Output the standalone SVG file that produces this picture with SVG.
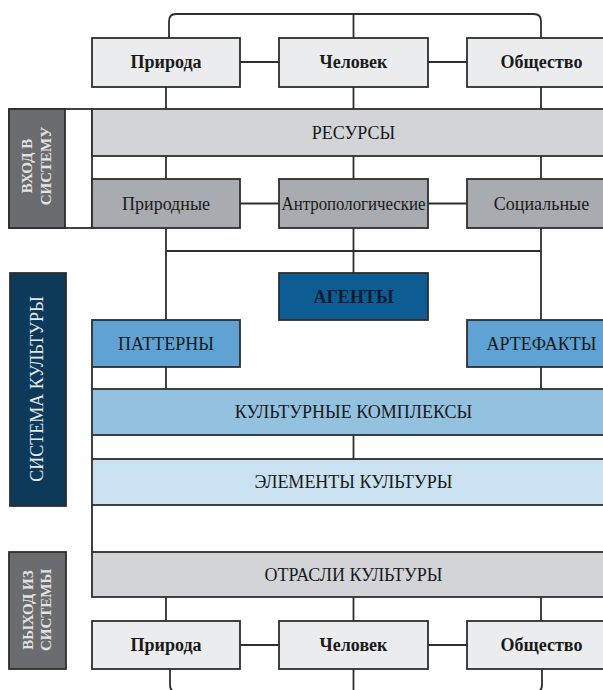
<svg xmlns="http://www.w3.org/2000/svg" width="603" height="690" viewBox="0 0 603 690">
<style>
.box{stroke:#2e2e2e;stroke-width:1.8}
.light{fill:#ebecee}
.res{fill:#d2d4d7}
.mid{fill:#a8abaf}
.agent{fill:#0d5c93}
.pat{fill:#5ea3d3}
.kk{fill:#93c1e0}
.el{fill:#c9e1f0}
.lbl{fill:#6a6c6f}
.navy{fill:#0d3a5b}
text{font-family:'Liberation Serif','Times New Roman',Tinos,'DejaVu Serif',serif}
.t{font-size:18px;fill:#1a1a1a;text-anchor:middle}
.b{font-weight:bold}
.side{font-size:15px;font-weight:bold;fill:#e2e2e2;text-anchor:middle}
.side2{font-size:18px;fill:#e4e9ee;text-anchor:middle}
.c{fill:none;stroke:#2e2e2e;stroke-width:1.8}
</style>
<rect width="603" height="690" fill="#ffffff"/>
<g id="connectors" class="c">
<path d="M169,38 V21 Q169,14 176,14 H534 Q541,14 541,21 V38 M353.5,14 V38"/>
<path d="M240,62 H279 M428,62 H467"/>
<path d="M166,87 V109 M353.5,87 V109 M541,87 V109"/>
<path d="M166,156 V179 M353.5,156 V179 M541,156 V179"/>
<path d="M240,203.5 H279 M428,203.5 H467"/>
<path d="M166,228 V320 M353.5,228 V273 M541,228 V320 M166,251 H541"/>
<path d="M166,367 V389 M541,367 V389"/>
<path d="M353.5,435 V459"/>
<path d="M92,367 V389 M92,435 V459 M92,505 V552"/>
<path d="M166,597 V621 M353.5,597 V621 M541,597 V621"/>
<path d="M240,645 H279 M428,645 H467"/>
<path d="M170,669 V685 Q170,692 177,692 H535 Q542,692 542,685 V669 M353.5,669 V692"/>
</g>
<g font-family="Liberation Serif, Times New Roman, serif">
<g id="label-vhod">
<rect x="9" y="109" width="83" height="119" fill="#ffffff" class="box"/>
<rect x="9" y="109" width="56" height="119" class="box lbl"/>
<text class="side" transform="translate(32,166) rotate(-90)">ВХОД В</text>
<text class="side" transform="translate(51,166) rotate(-90)">СИСТЕМУ</text>
</g>
<g id="label-sistema">
<rect x="10" y="273" width="56" height="233" class="box navy"/>
<text class="side2" transform="translate(43,389) rotate(-90)">СИСТЕМА КУЛЬТУРЫ</text>
</g>
<g id="label-vyhod">
<rect x="9" y="552" width="57" height="117" class="box lbl"/>
<text class="side" transform="translate(33,610) rotate(-90)">ВЫХОД ИЗ</text>
<text class="side" transform="translate(51,610) rotate(-90)">СИСТЕМЫ</text>
</g>
<g id="priroda-top"><rect x="92" y="38" width="148" height="49" class="box light"/><text class="t b" x="166" y="68">Природа</text></g>
<g id="chelovek-top"><rect x="279" y="38" width="149" height="49" class="box light"/><text class="t b" x="353.5" y="68">Человек</text></g>
<g id="obshestvo-top"><rect x="467" y="38" width="150" height="49" class="box light"/><text class="t b" x="541.5" y="68">Общество</text></g>
<g id="resursy"><rect x="92" y="109" width="520" height="47" class="box res"/><text class="t" x="353.5" y="139">РЕСУРСЫ</text></g>
<g id="prirodnye"><rect x="92" y="179" width="148" height="49" class="box mid"/><text class="t" x="166" y="210">Природные</text></g>
<g id="antropologicheskie"><rect x="279" y="179" width="149" height="49" class="box mid"/><text class="t" x="353.5" y="210" textLength="144" lengthAdjust="spacingAndGlyphs">Антропологические</text></g>
<g id="socialnye"><rect x="467" y="179" width="150" height="49" class="box mid"/><text class="t" x="541.5" y="210">Социальные</text></g>
<g id="agenty"><rect x="279" y="273" width="149" height="47" class="box agent"/><text class="t b" x="353.5" y="303" style="fill:#0b1e30">АГЕНТЫ</text></g>
<g id="patterny"><rect x="92" y="320" width="148" height="47" class="box pat"/><text class="t" x="166" y="350">ПАТТЕРНЫ</text></g>
<g id="artefakty"><rect x="467" y="320" width="150" height="47" class="box pat"/><text class="t" x="541.5" y="350">АРТЕФАКТЫ</text></g>
<g id="kompleksy"><rect x="92" y="389" width="520" height="46" class="box kk"/><text class="t" x="353.5" y="418">КУЛЬТУРНЫЕ КОМПЛЕКСЫ</text></g>
<g id="elementy"><rect x="92" y="459" width="520" height="46" class="box el"/><text class="t" x="353.5" y="488">ЭЛЕМЕНТЫ КУЛЬТУРЫ</text></g>
<g id="otrasli"><rect x="92" y="552" width="520" height="45" class="box res"/><text class="t" x="353.5" y="581">ОТРАСЛИ КУЛЬТУРЫ</text></g>
<g id="priroda-bottom"><rect x="92" y="621" width="148" height="48" class="box light"/><text class="t b" x="166" y="651">Природа</text></g>
<g id="chelovek-bottom"><rect x="279" y="621" width="149" height="48" class="box light"/><text class="t b" x="353.5" y="651">Человек</text></g>
<g id="obshestvo-bottom"><rect x="467" y="621" width="150" height="48" class="box light"/><text class="t b" x="541.5" y="651">Общество</text></g>
</g>
</svg>
